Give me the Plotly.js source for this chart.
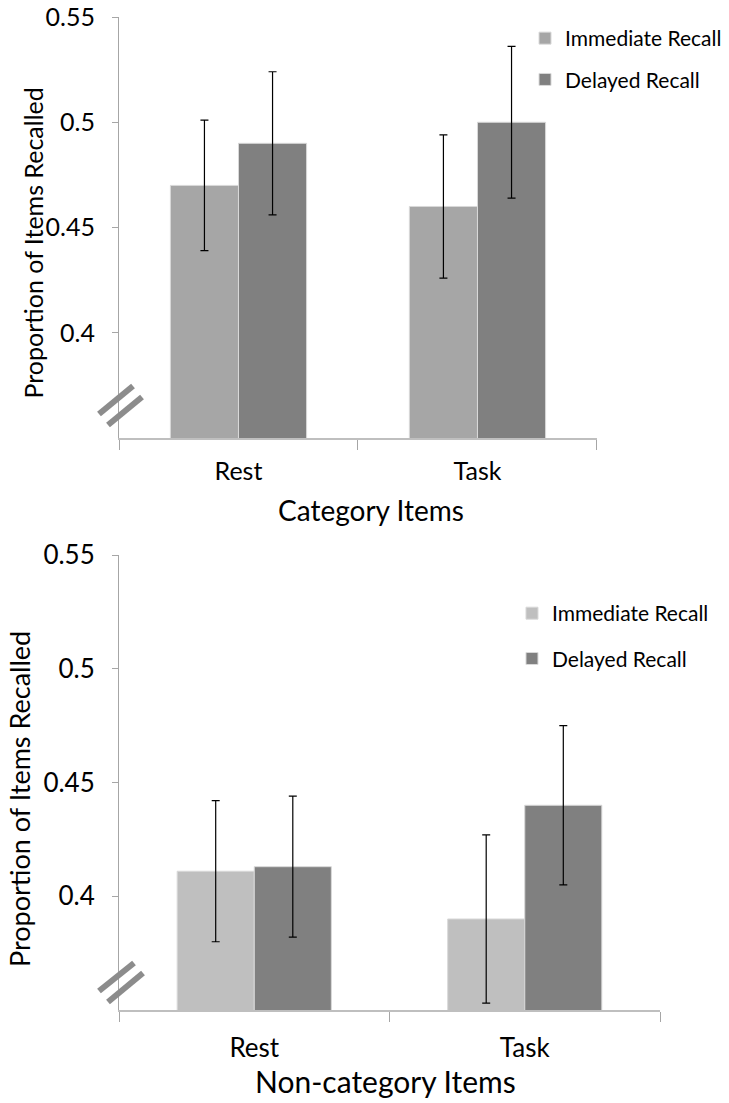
<!DOCTYPE html>
<html>
<head>
<meta charset="utf-8">
<script src="https://cdn.plot.ly/plotly-3.0.1.min.js"></script>
<style>html,body{margin:0;padding:0;background:#fff;}#chart{width:729px;height:1103px;}</style>
</head>
<body>
<div id="chart"></div>
<script>
// ---- data ----
const categories = ['Rest', 'Task'];
const seriesNames = ['Immediate Recall', 'Delayed Recall'];
const catImmediate = [0.470, 0.460];
const catImmediateErr = [0.031, 0.034];
const catDelayed = [0.490, 0.500];
const catDelayedErr = [0.034, 0.036];
const nonImmediate = [0.411, 0.390];
const nonImmediateErr = [0.031, 0.037];
const nonDelayed = [0.413, 0.440];
const nonDelayedErr = [0.031, 0.035];
const yTickVals = [0.4, 0.45, 0.5, 0.55];
const yTickText = ['0.4', '0.45', '0.5', '0.55'];
const panelTitles = ['Category Items', 'Non-category Items'];
const yTitle = 'Proportion of Items Recalled';

const FONT = 'Lato, "Open Sans", sans-serif';
const barLine = {color: '#d9d9d9', width: 1};
function errs(arr) {
  return {type: 'data', array: arr, visible: true, color: '#000', thickness: 1.2, width: 4};
}

const traces = [
  {type: 'bar', x: categories, y: catImmediate, name: seriesNames[0], xaxis: 'x', yaxis: 'y',
   marker: {color: '#a6a6a6', line: barLine}, error_y: errs(catImmediateErr), legend: 'legend', legendgroup: 'a'},
  {type: 'bar', x: categories, y: catDelayed, name: seriesNames[1], xaxis: 'x', yaxis: 'y',
   marker: {color: '#808080', line: barLine}, error_y: errs(catDelayedErr), legend: 'legend', legendgroup: 'b'},
  {type: 'bar', x: categories, y: nonImmediate, name: seriesNames[0], xaxis: 'x2', yaxis: 'y2',
   marker: {color: '#bfbfbf', line: barLine}, error_y: errs(nonImmediateErr), legend: 'legend2', legendgroup: 'c'},
  {type: 'bar', x: categories, y: nonDelayed, name: seriesNames[1], xaxis: 'x2', yaxis: 'y2',
   marker: {color: '#808080', line: barLine}, error_y: errs(nonDelayedErr), legend: 'legend2', legendgroup: 'd'}
];

function xAxis(domain, anchor, labelStandoff, fs) {
  return {
    domain: domain, anchor: anchor, type: 'category', tickson: 'boundaries',
    ticks: 'outside', ticklen: 10, tickcolor: '#a6a6a6', tickwidth: 1,
    showline: true, linecolor: '#bfbfbf', linewidth: 1.5,
    showgrid: false, zeroline: false, fixedrange: true,
    ticklabelstandoff: labelStandoff,
    tickfont: {family: FONT, size: fs, color: '#000'},
    automargin: false
  };
}
function yAxis(domain, anchor, fs) {
  return {
    domain: domain, anchor: anchor, range: [0.35, 0.55],
    tickmode: 'array', tickvals: yTickVals, ticktext: yTickText,
    ticks: 'outside', ticklen: 6, tickcolor: '#a6a6a6',
    showline: true, linecolor: '#a6a6a6', linewidth: 1,
    showgrid: false, zeroline: false, fixedrange: true,
    ticklabelstandoff: 12,
    tickfont: {family: FONT, size: fs, color: '#000'},
    automargin: false
  };
}

function breakMark(xr, yr, x0, y0, x1, y1, color, w) {
  return {type: 'line', xref: xr, yref: yr, xsizemode: 'pixel', ysizemode: 'pixel',
          xanchor: 0, yanchor: 0, x0: x0, y0: y0, x1: x1, y1: y1,
          line: {color: color, width: w}};
}
function titleAnn(text, x, y, size, angle) {
  return {text: text, xref: 'paper', yref: 'paper', x: x, y: y, xanchor: 'center', yanchor: 'middle',
          showarrow: false, textangle: angle, font: {family: FONT, size: size, color: '#000'}};
}

const layout = {
  width: 729, height: 1103,
  margin: {l: 119, r: 69, t: 17, b: 93, autoexpand: false},
  paper_bgcolor: '#fff', plot_bgcolor: '#fff',
  font: {family: FONT, color: '#000'},
  barmode: 'group', bargap: 0.43, bargroupgap: 0,
  showlegend: true,
  xaxis: xAxis([0, 0.8835], 'y', 10, 25),
  yaxis: yAxis([0.576, 1], 'x', 25),
  xaxis2: xAxis([0, 1], 'y2', 14, 26),
  yaxis2: yAxis([0, 0.4582], 'x2', 26),
  legend: {xref: 'paper', yref: 'paper', x: 0.7505, y: 0.999,
           xanchor: 'left', yanchor: 'top', traceorder: 'grouped', tracegroupgap: 11,
           font: {family: FONT, size: 21, color: '#000'}, bgcolor: 'rgba(0,0,0,0)'},
  legend2: {xref: 'paper', yref: 'paper', x: 0.7264, y: 0.4199,
           xanchor: 'left', yanchor: 'top', traceorder: 'grouped', tracegroupgap: 15,
           font: {family: FONT, size: 21, color: '#000'}, bgcolor: 'rgba(0,0,0,0)'},
  annotations: [
    titleAnn(panelTitles[0], 0.4658, 0.5035, 28, 0),
    titleAnn(panelTitles[1], 0.4917, -0.0715, 30, 0),
    titleAnn(yTitle, -86 / 541, 0.7729, 25, -90),
    titleAnn(yTitle, -99 / 541, 0.2125, 27, -90)
  ],
  shapes: [
    breakMark('x domain', 'y domain', -20, 24, 14, 52, '#8c8c8c', 6),
    breakMark('x domain', 'y domain', -11, 13, 23, 41, '#8c8c8c', 6),
    breakMark('x2 domain', 'y2 domain', -20, 19, 15, 47, '#8c8c8c', 6),
    breakMark('x2 domain', 'y2 domain', -11, 8, 24, 37, '#8c8c8c', 6)
  ]
};

Plotly.newPlot('chart', traces, layout, {displayModeBar: false, staticPlot: true});
</script>
</body>
</html>
